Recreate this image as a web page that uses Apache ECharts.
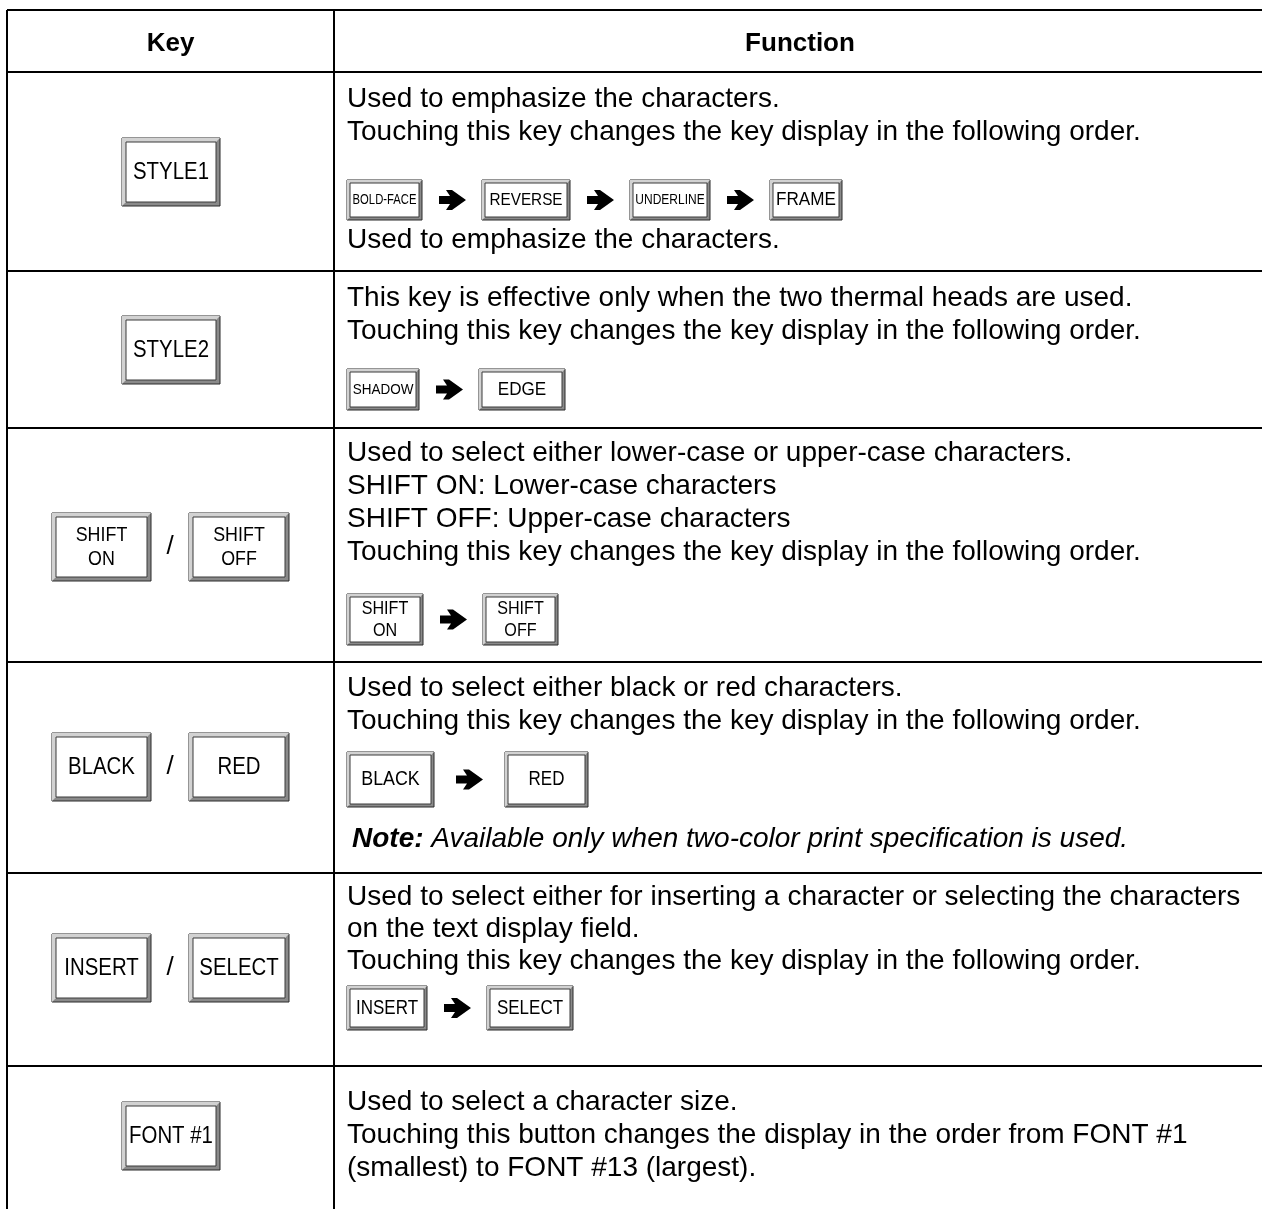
<!DOCTYPE html>
<html><head><meta charset="utf-8">
<script src="https://cdn.jsdelivr.net/npm/echarts@6/dist/echarts.min.js"></script>
<style>html,body{margin:0;padding:0;background:#fff}#c{width:1262px;height:1209px}</style>
</head><body><div id="c"></div>
<script>
// ---------- data ----------
const headerLabels = ['Key', 'Function'];
const keyLabels = [
  [['STYLE1']],
  [['STYLE2']],
  [['SHIFT', 'ON'], ['SHIFT', 'OFF']],
  [['BLACK'], ['RED']],
  [['INSERT'], ['SELECT']],
  [['FONT #1']]
];
const functionLines = [
  ['Used to emphasize the characters.', 'Touching this key changes the key display in the following order.', 'Used to emphasize the characters.'],
  ['This key is effective only when the two thermal heads are used.', 'Touching this key changes the key display in the following order.'],
  ['Used to select either lower-case or upper-case characters.', 'SHIFT ON: Lower-case characters', 'SHIFT OFF: Upper-case characters', 'Touching this key changes the key display in the following order.'],
  ['Used to select either black or red characters.', 'Touching this key changes the key display in the following order.'],
  ['Used to select either for inserting a character or selecting the characters', 'on the text display field.', 'Touching this key changes the key display in the following order.'],
  ['Used to select a character size.', 'Touching this button changes the display in the order from FONT #1', '(smallest) to FONT #13 (largest).']
];
const sequenceLabels = [
  [['BOLD-FACE'], ['REVERSE'], ['UNDERLINE'], ['FRAME']],
  [['SHADOW'], ['EDGE']],
  [['SHIFT', 'ON'], ['SHIFT', 'OFF']],
  [['BLACK'], ['RED']],
  [['INSERT'], ['SELECT']],
  []
];
const noteLabel = 'Note:';
const noteText = 'Available only when two-color print specification is used.';

// ---------- layout ----------
const FONT = 'Liberation Sans, Arial, Helvetica, sans-serif';
const L = {
  left: 7, col: 334, right: 1262, top: 10, bottom: 1209,
  rowY: [72, 271, 428, 662, 873, 1066],
  textX: 347, bodySize: 28, headSize: 26,
  textY: [[99, 132, 240], [298, 331], [453, 486, 519, 552], [688, 721], [897, 929, 961], [1102, 1135, 1168]],
  keyY: [138, 316, 513, 733, 934, 1102], keyH: 68,
  seqY: [180, 369, 594, 752, 986], seqH: [40, 41, 51, 55, 44],
  seqW: [[75, 88, 80, 72], [72, 86], [76, 75], [87, 83], [80, 86]],
  seqGap: [[17, 16], [17, 16], [17, 16], [22, 22], [17, 16]],
  seqFont: [[15, 17, 15, 19], [15, 19], [19, 19], [21, 20], [20, 20]],
  seqScale: [[0.75, 0.9, 0.8, 0.9], [0.9, 0.9], [0.85, 0.85], [0.85, 0.85], [0.85, 0.85]],
  noteX: 352, noteY: 839
};

const els = [];
function line(x1, y1, x2, y2, w) {
  els.push({ type: 'line', shape: { x1, y1, x2, y2 }, style: { stroke: '#000', lineWidth: w || 2 } });
}
function txt(x, y, text, size, opts) {
  opts = opts || {};
  els.push({
    type: 'text', x, y, scaleX: opts.sx || 1,
    style: {
      text, x: 0, y: 0, fill: '#000', fontSize: size, fontFamily: FONT,
      fontWeight: opts.bold ? 'bold' : 'normal', fontStyle: opts.italic ? 'italic' : 'normal',
      align: opts.align || 'left', verticalAlign: 'middle',
      textAlign: opts.align || 'left', textVerticalAlign: 'middle',
      rich: opts.rich
    }
  });
}
function bevel(x, y, w, h, lines, fs, sx, b) {
  els.push({ type: 'rect', shape: { x, y, width: w, height: h }, style: { fill: '#8a8a8a', stroke: '#2a2a2a', lineWidth: 1 } });
  els.push({ type: 'polygon', shape: { points: [[x, y], [x + w, y], [x + w - b, y + b], [x + b, y + b], [x + b, y + h - b], [x, y + h]] }, style: { fill: '#d2d2d2' } });
  els.push({ type: 'rect', shape: { x: x + b, y: y + b, width: w - 2 * b, height: h - 2 * b }, style: { fill: '#fff', stroke: '#3a3a3a', lineWidth: 1 } });
  const cx = x + w / 2, cy = y + h / 2;
  const pitch = fs * 1.15;
  lines.forEach((t, i) => {
    txt(cx, cy + (i - (lines.length - 1) / 2) * pitch, t, fs, { align: 'center', sx });
  });
}
function arrow(x, cy) {
  const p = [[0, -4], [11, -4], [7, -10], [13, -10], [27, 0], [13, 10], [7, 10], [11, 4], [0, 4]];
  els.push({ type: 'polygon', shape: { points: p.map(q => [x + q[0], cy + q[1]]) }, style: { fill: '#000' } });
}

// grid
line(L.left, L.top, L.right, L.top);
L.rowY.forEach(y => line(L.left, y, L.right, y));
line(L.left, L.top, L.left, L.bottom);
line(L.col, L.top, L.col, L.bottom);

// header
txt((L.left + L.col) / 2, (L.top + L.rowY[0]) / 2 + 3, headerLabels[0], L.headSize, { bold: true, align: 'center' });
txt((L.col + L.right + 4) / 2, (L.top + L.rowY[0]) / 2 + 3, headerLabels[1], L.headSize, { bold: true, align: 'center' });

// rows
keyLabels.forEach((keys, r) => {
  const ky = L.keyY[r];
  if (keys.length === 1) {
    bevel(122, ky, 98, L.keyH, keys[0], keys[0].length > 1 ? 21 : 24, 0.85, 4);
  } else {
    bevel(52, ky, 99, L.keyH, keys[0], keys[0].length > 1 ? 21 : 24, 0.85, 4);
    txt(170, ky + L.keyH / 2, '/', 26, { align: 'center' });
    bevel(189, ky, 100, L.keyH, keys[1], keys[1].length > 1 ? 21 : 24, 0.85, 4);
  }
  functionLines[r].forEach((t, i) => txt(L.textX, L.textY[r][i], t, L.bodySize));
  const seq = sequenceLabels[r];
  if (seq.length) {
    let x = L.textX;
    const y = L.seqY[r], h = L.seqH[r];
    const g = L.seqGap[r];
    seq.forEach((lab, i) => {
      const w = L.seqW[r][i];
      bevel(x, y, w, h, lab, L.seqFont[r][i], L.seqScale[r][i], 3);
      x += w;
      if (i < seq.length - 1) {
        arrow(x + g[0], y + h / 2);
        x += g[0] + 27 + g[1];
      }
    });
  }
});

// note
txt(L.noteX, L.noteY, '{b|' + noteLabel + '} ' + noteText, L.bodySize, {
  italic: true,
  rich: { b: { fontWeight: 'bold', fontStyle: 'italic', fontSize: L.bodySize, fontFamily: FONT } }
});

const chart = echarts.init(document.getElementById('c'), null, { renderer: 'canvas' });
chart.setOption({ animation: false, backgroundColor: '#fff', graphic: { elements: els } });
</script></body></html>
